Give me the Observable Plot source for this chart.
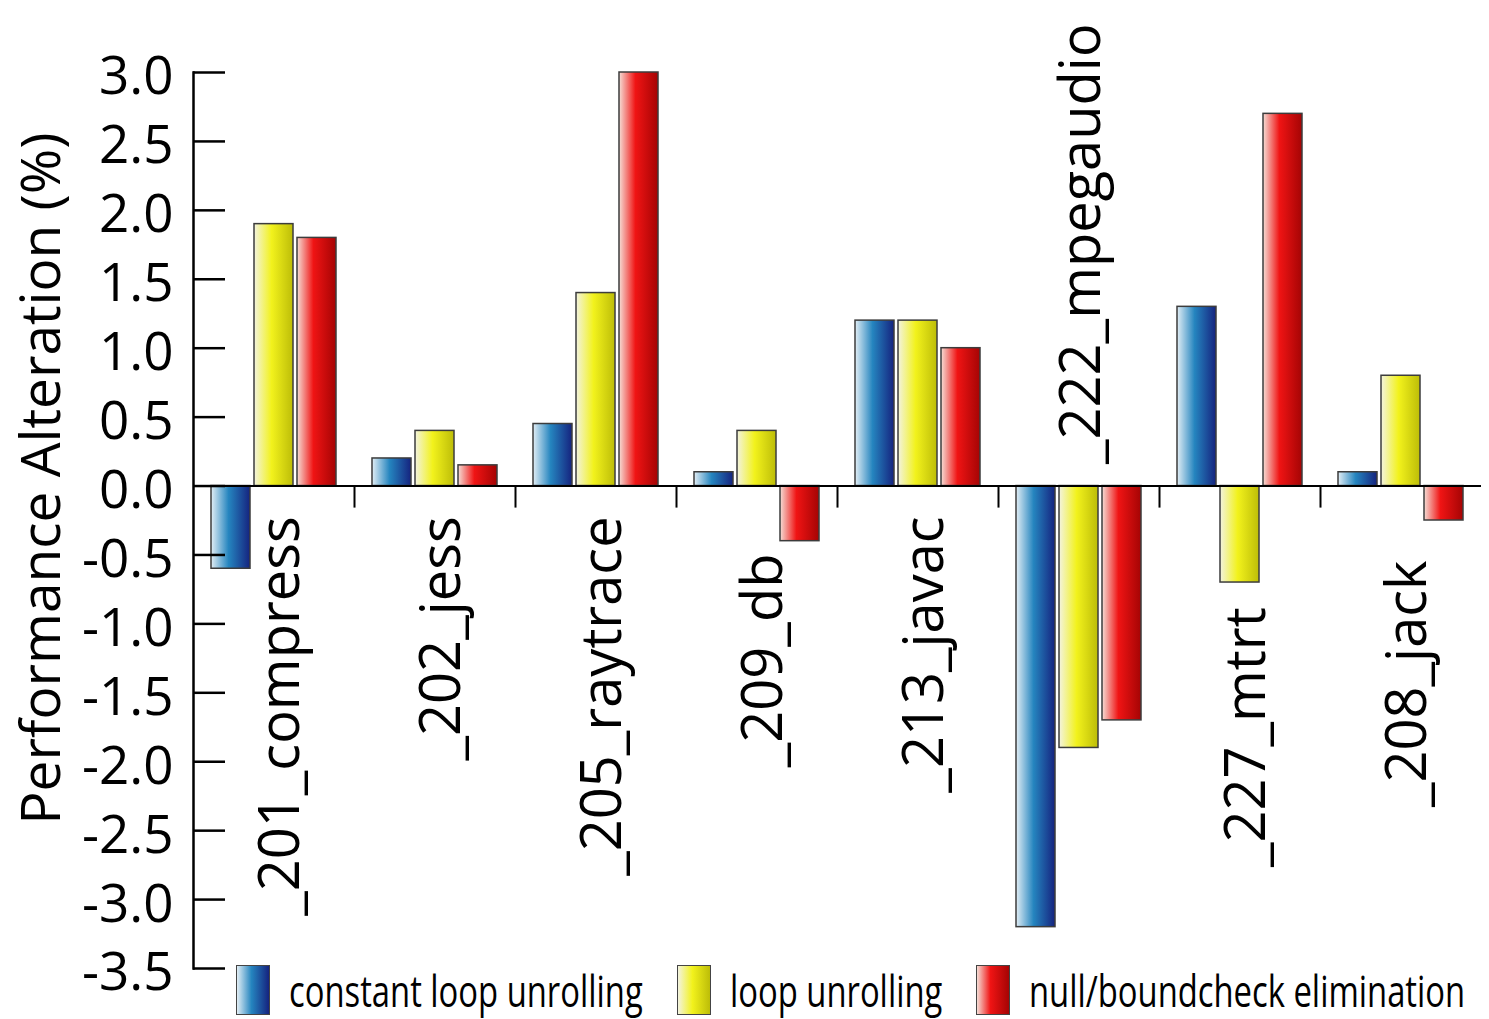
<!DOCTYPE html>
<html>
<head>
<meta charset="utf-8">
<script src="https://cdn.jsdelivr.net/npm/d3@7"></script>
<script src="https://cdn.jsdelivr.net/npm/@observablehq/plot@0.6"></script>
<style>
  html, body { margin: 0; padding: 0; background: #fff; }
  #wrap { position: relative; width: 1489px; height: 1019px; font-family: 'Open Sans', sans-serif; color: #000; }
  #wrap svg { position: absolute; left: 0; top: 0; }
</style>
</head>
<body>
<div id="wrap"></div>
<script>
// ---- data ----
const categories = ["_201_compress", "_202_jess", "_205_raytrace", "_209_db", "_213_javac", "_222_mpegaudio", "_227_mtrt", "_208_jack"];
const seriesNames = ["constant loop unrolling", "loop unrolling", "null/boundcheck elimination"];
const constantLoopUnrolling = [-0.6, 0.2, 0.45, 0.1, 1.2, -3.2, 1.3, 0.1];
const loopUnrolling = [1.9, 0.4, 1.4, 0.4, 1.2, -1.9, -0.7, 0.8];
const nullBoundcheckElimination = [1.8, 0.15, 3.0, -0.4, 1.0, -1.7, 2.7, -0.25];
const yTicks = [-3.5, -3.0, -2.5, -2.0, -1.5, -1.0, -0.5, 0.0, 0.5, 1.0, 1.5, 2.0, 2.5, 3.0];
const yTitle = "Performance Alteration (%)";
// where each category label is anchored (y value); labels above zero read upward from it
const labelAnchorY = [-0.22, -0.22, -0.22, -0.49, -0.22, 0.16, -0.88, -0.54];

// ---- styles ----
const gradients = [
  {id: "g-blue",   stops: [[0, "#e2eef5"], [0.45, "#2585bf"], [1, "#15237f"]]},
  {id: "g-yellow", stops: [[0, "#f3f3e0"], [0.45, "#f2f21c"], [1, "#bdbd08"]]},
  {id: "g-red",    stops: [[0, "#f5ded6"], [0.42, "#f01414"], [1, "#a50404"]]}
];

const W = 1489, H = 1019, mL = 193, mR = 8, mT = 72, mB = 51;
const bw = (W - mL - mR) / categories.length;
const barW = 39, gap = 4;
const groupPad = (bw - 3 * barW - 2 * gap) / 2;

const seriesValues = [constantLoopUnrolling, loopUnrolling, nullBoundcheckElimination];
const rows = categories.flatMap((c, ci) => seriesValues.map((vals, si) => ({cat: c, series: seriesNames[si], value: vals[ci]})));
const labelRows = categories.map((c, i) => ({cat: c, ly: labelAnchorY[i]}));

const defsMark = () => {
  const defs = d3.create("svg:defs");
  gradients.forEach(g => {
    const lg = defs.append("linearGradient").attr("id", g.id).attr("x1", 0).attr("x2", 1).attr("y1", 0).attr("y2", 0);
    g.stops.forEach(([o, c]) => lg.append("stop").attr("offset", o).attr("stop-color", c));
  });
  return defs.node();
};

const barMarks = seriesNames.map((s, i) => {
  const insetLeft = groupPad + i * (barW + gap);
  const insetRight = bw - insetLeft - barW;
  return Plot.barY(rows.filter(d => d.series === s), {
    x: "cat", y: "value",
    fill: `url(#${gradients[i].id})`,
    stroke: "#3c3c3c", strokeWidth: 1.5,
    insetLeft, insetRight
  });
});

const chart = Plot.plot({
  width: W, height: H,
  marginLeft: mL, marginRight: mR, marginTop: mT, marginBottom: mB,
  style: {fontFamily: "'Open Sans', sans-serif", fontSize: "53px", color: "#000", background: "transparent", overflow: "visible"},
  x: {domain: categories, type: "band", padding: 0, axis: null},
  y: {domain: [-3.5, 3.0], label: null},
  marks: [
    defsMark,
    ...barMarks,
    Plot.ruleY([0], {stroke: "#000", strokeWidth: 2}),
    Plot.ruleX(categories.slice(1), {y1: 0, y2: -0.16, dx: -bw / 2, stroke: "#000", strokeWidth: 2}),
    Plot.frame({anchor: "left", stroke: "#000", strokeWidth: 2.5}),
    Plot.axisY(yTicks, {tickSize: -32, tickFormat: () => "", strokeWidth: 2.5, label: null}),
    Plot.axisY(yTicks, {tickSize: 0, tickPadding: 20, tickFormat: d => d.toFixed(1), fontSize: 53, dy: 5, label: null}),
    Plot.text([yTitle], {frameAnchor: "left", textAnchor: "middle", rotate: -90, lineAnchor: "bottom", fontSize: 55, dx: -134, dy: -42, fill: "#000"}),
    Plot.text(labelRows.filter(d => d.ly <= 0), {x: "cat", y: "ly", text: "cat", rotate: -90, textAnchor: "end", lineAnchor: "middle", fontSize: 56, dx: 7, fill: "#000"}),
    Plot.text(labelRows.filter(d => d.ly > 0), {x: "cat", y: "ly", text: "cat", rotate: -90, textAnchor: "start", lineAnchor: "middle", fontSize: 56, dx: 3, fill: "#000"})
  ]
});

const wrap = document.getElementById("wrap");
wrap.appendChild(chart);

// ---- legend (over the bottom margin) ----
let xPos = 236;
seriesNames.forEach((name, i) => {
  const stops = gradients[i].stops.map(([o, c]) => `${c} ${o * 100}%`).join(", ");
  const sw = document.createElement("div");
  sw.style.cssText = `position:absolute;left:${xPos}px;top:965px;width:34px;height:50px;box-sizing:border-box;border:1.5px solid #444;background:linear-gradient(to right, ${stops});`;
  wrap.appendChild(sw);
  xPos += 34 + 19;
  const tx = document.createElement("span");
  tx.textContent = name;
  tx.style.cssText = `position:absolute;left:${xPos}px;top:968px;font-family:'Open Sans',sans-serif;font-size:44px;line-height:1;white-space:nowrap;transform:scaleX(0.745);transform-origin:0 0;color:#000;`;
  wrap.appendChild(tx);
  xPos += tx.getBoundingClientRect().width + 34;
});
</script>
</body>
</html>
